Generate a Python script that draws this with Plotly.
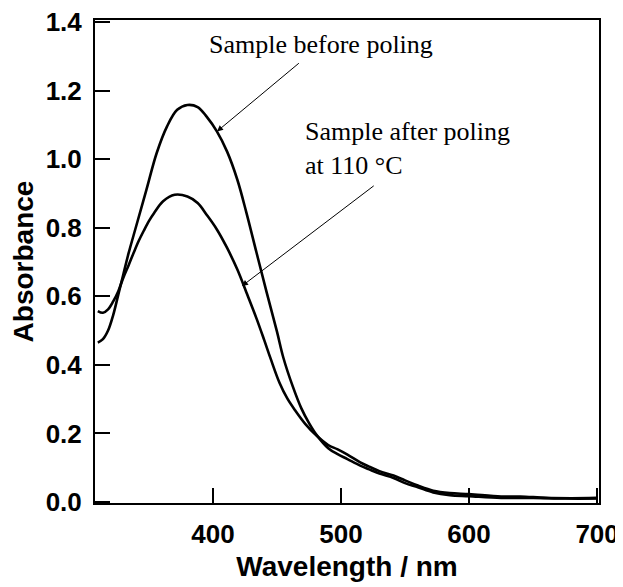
import plotly.graph_objects as go

# Sample before poling
wl_before = [310, 314, 318, 322, 326, 330, 334, 340, 348, 356, 364, 372, 380, 388, 395, 403,
             411, 419, 426, 434, 442, 450, 455, 462, 469, 475, 481, 490, 497, 505, 515, 522,
             530, 541, 550, 560, 572, 585, 600, 625, 650, 675, 700]
abs_before = [0.465, 0.475, 0.50, 0.545, 0.605, 0.665, 0.725, 0.805, 0.911, 1.018, 1.095, 1.144,
              1.158, 1.152, 1.124, 1.081, 1.022, 0.940, 0.845, 0.727, 0.610, 0.496, 0.420,
              0.340, 0.273, 0.230, 0.195, 0.157, 0.140, 0.125, 0.106, 0.095, 0.083, 0.070,
              0.055, 0.043, 0.028, 0.020, 0.017, 0.012, 0.012, 0.010, 0.010]

# Sample after poling at 110 °C
wl_after = [310, 314, 318, 322, 326, 330, 334, 338, 342, 346, 350, 354, 361, 370, 380, 388, 395,
            403, 411, 419, 426, 434, 440, 445, 452, 458, 464, 472, 481, 490, 497, 505, 515, 522,
            530, 541, 550, 560, 572, 585, 600, 625, 640, 660, 680, 700]
abs_after = [0.557, 0.552, 0.562, 0.585, 0.615, 0.655, 0.69, 0.727, 0.762, 0.792, 0.820, 0.843,
             0.877, 0.896, 0.891, 0.872, 0.838, 0.795, 0.741, 0.678, 0.612, 0.535, 0.472, 0.418,
             0.347, 0.302, 0.268, 0.228, 0.193, 0.166, 0.154, 0.138, 0.1155, 0.103, 0.090,
             0.077, 0.063, 0.048, 0.033, 0.026, 0.023, 0.016, 0.016, 0.012, 0.011, 0.012]

x_ticks = [400, 500, 600, 700]
y_ticks = [0.0, 0.2, 0.4, 0.6, 0.8, 1.0, 1.2, 1.4]

label_before = "Sample before poling"
label_after = "Sample after poling<br>at 110 °C"

fig = go.Figure()
for xs, ys, name in [(wl_before, abs_before, "before"), (wl_after, abs_after, "after")]:
    fig.add_trace(go.Scatter(x=xs, y=ys, mode="lines", name=name,
                             line=dict(color="black", width=2.6, shape="spline", smoothing=1.0),
                             showlegend=False))

axis_font = dict(family="Liberation Sans, Arial, sans-serif", size=28, color="black", weight="bold")
tick_font = dict(family="Liberation Sans, Arial, sans-serif", size=26, color="black", weight="bold")
serif = dict(family="Liberation Serif, Times New Roman, serif", size=26, color="black")

# the page body adds an 8 px margin, so the figure is offset to keep the plot box in place
fig.update_layout(
    width=615, height=579,
    margin=dict(l=87, r=24, t=12, b=84),
    plot_bgcolor="white", paper_bgcolor="white",
    xaxis=dict(range=[307.8, 701.5], tickvals=x_ticks, ticktext=[str(v) for v in x_ticks],
               ticks="inside", ticklen=15, tickwidth=1.5, tickcolor="black",
               showline=True, linecolor="black", linewidth=2, mirror=True, automargin=False,
               ticklabeloverflow="allow",
               showgrid=False, zeroline=False, tickfont=tick_font, ticklabelstandoff=7,
               title=dict(text="Wavelength / nm", font=axis_font, standoff=8)),
    yaxis=dict(range=[-0.003, 1.406], tickvals=y_ticks, ticktext=[f"{v:.1f}" for v in y_ticks],
               ticks="inside", ticklen=15, tickwidth=1.5, tickcolor="black",
               showline=True, linecolor="black", linewidth=2, mirror=True, automargin=False,
               ticklabeloverflow="allow",
               showgrid=False, zeroline=False, tickfont=tick_font, ticklabelstandoff=6,
               title=dict(text="Absorbance", font=axis_font, standoff=4)),
)

# arrows
fig.add_annotation(x=403.1, y=1.081, ax=468.2, ay=1.2835, xref="x", yref="y", axref="x", ayref="y",
                   text="", showarrow=True, arrowhead=2, arrowsize=1.2, arrowwidth=1, arrowcolor="black")
fig.add_annotation(x=422.6, y=0.63, ax=526.7, ay=0.9255, xref="x", yref="y", axref="x", ayref="y",
                   text="", showarrow=True, arrowhead=2, arrowsize=1.2, arrowwidth=1, arrowcolor="black")
# labels
fig.add_annotation(x=484.4, y=1.335, xref="x", yref="y", text=label_before, showarrow=False,
                   xanchor="center", yanchor="middle", font=serif)
fig.add_annotation(x=470, y=1.03, xref="x", yref="y", text=label_after, showarrow=False,
                   xanchor="left", yanchor="middle", align="left", font=serif)

fig.write_html("out.html")
